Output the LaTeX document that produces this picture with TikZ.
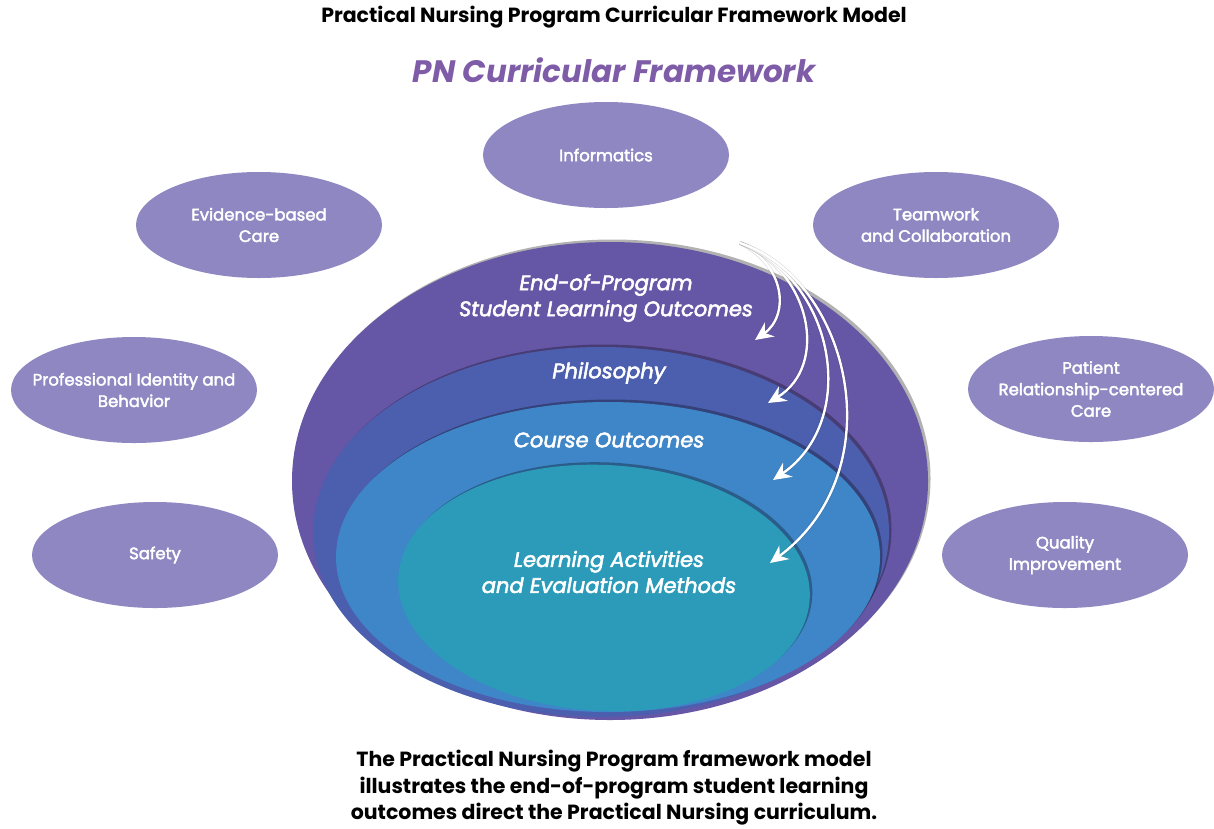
\documentclass[tikz,border=0pt]{standalone}
\usepackage{fontspec}
\setmainfont{Poppins}
\newfontfamily\medfont{Poppins}[FakeBold=2.5]
\usetikzlibrary{shapes.geometric,shadows,arrows.meta}
\definecolor{topicfill}{HTML}{8E87C1}
\definecolor{ringa}{HTML}{6656A6}
\definecolor{ringb}{HTML}{4C5FAE}
\definecolor{ringc}{HTML}{3E86C8}
\definecolor{ringd}{HTML}{2B9BB9}
\definecolor{headpurple}{HTML}{7E5CA8}

\begin{document}
\begin{tikzpicture}[x=1pt,y=-1pt,
  topic/.style={ellipse,fill=topicfill,minimum width=246pt,minimum height=106pt,inner sep=0pt},
  topictext/.style={text=white,align=center,font=\fontsize{16.5}{21.5}\medfont},
  ring/.style={ellipse,inner sep=0pt,drop shadow={shadow xshift=2.5pt,shadow yshift=2.5pt,fill=black,opacity=0.3}},
  ringtext/.style={text=white,align=center,font=\fontsize{21}{26}\medfont\itshape},
  flow/.style={white,line width=2.4pt,preaction={draw=black,opacity=0.15,line width=3.6pt},-{Stealth[length=18pt,width=17pt,inset=6pt]}}]
  \useasboundingbox[fill=white] (0,0) rectangle (1214,828);
  \node[font=\fontsize{20.5}{24}\selectfont\bfseries] (title) at (614,17) {Practical Nursing Program Curricular Framework Model};
  \node[font=\fontsize{31}{36}\selectfont\bfseries\itshape,text=headpurple] (pn) at (614,70) {PN Curricular Framework};
  \node[topic,label={[topictext]center:Informatics}] (info) at (606,155) {};
  \node[topic,label={[topictext]center:Evidence-based\\Care}] (ebc) at (259,225) {};
  \node[topic,label={[topictext]center:Teamwork\\and Collaboration}] (team) at (936,225) {};
  \node[topic,label={[topictext]center:Professional Identity and\\Behavior}] (prof) at (134,390) {};
  \node[topic,label={[topictext]center:Patient\\Relationship-centered\\Care}] (pat) at (1091,389) {};
  \node[topic,label={[topictext]center:Safety}] (safe) at (155,555) {};
  \node[topic,label={[topictext]center:Quality\\Improvement}] (qual) at (1065,555) {};
  \node[ring,fill=ringa,minimum width=636pt,minimum height=478pt] (slo) at (610,481) {};
  \node[ring,fill=ringb,minimum width=576pt,minimum height=370pt] (phil) at (601,532) {};
  \node[ring,fill=ringc,minimum width=544pt,minimum height=310pt] (course) at (608,557) {};
  \node[ring,fill=ringd,minimum width=412pt,minimum height=246pt,rotate=-3] (act) at (604,588) {};
  \node[ringtext] (slotext) at (606,298) {End-of-Program\\Student Learning Outcomes};
  \node[ringtext] (philtext) at (609,373) {Philosophy};
  \node[ringtext] (coursetext) at (609,440) {Course Outcomes};
  \node[ringtext] (acttext) at (609,572) {Learning Activities\\and Evaluation Methods};
  \coordinate (src) at (740,243);
  \coordinate (t1) at (755,340);
  \coordinate (t2) at (768,403);
  \coordinate (t3) at (773,480);
  \coordinate (t4) at (770,563);
  \draw[flow] (src) .. controls (785,265) and (790,315) .. (t1);
  \draw[flow] (src) .. controls (810,270) and (830,365) .. (t2);
  \draw[flow] (src) .. controls (835,280) and (860,420) .. (t3);
  \draw[flow] (src) .. controls (850,280) and (895,470) .. (t4);
  \node[font=\fontsize{20.5}{26.5}\selectfont\bfseries,align=center] (caption) at (614,788) {The Practical Nursing Program framework model\\illustrates the end-of-program student learning\\outcomes direct the Practical Nursing curriculum.};
\end{tikzpicture}
\end{document}
